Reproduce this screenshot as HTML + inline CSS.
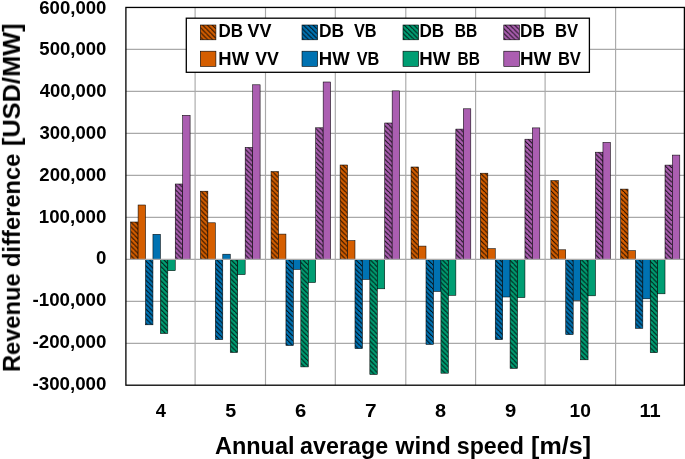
<!DOCTYPE html>
<html><head><meta charset="utf-8"><style>
html,body{margin:0;padding:0;background:#fff;width:685px;height:459px;overflow:hidden}
svg{display:block} text{will-change:transform}
</style></head><body>
<svg width="685" height="459" viewBox="0 0 685 459">
<defs>
<pattern id="h0" patternUnits="userSpaceOnUse" width="4.8" height="4.8"><rect width="4.8" height="4.8" fill="#D55E00"/><path d="M-2.4,-2.4 L7.199999999999999,7.199999999999999 M-7.199999999999999,-2.4 L2.4,7.199999999999999 M2.4,-7.199999999999999 L12.0,2.4" stroke="#000" stroke-opacity="0.88" stroke-width="1.05"/></pattern>
<pattern id="h1" patternUnits="userSpaceOnUse" width="4.8" height="4.8"><rect width="4.8" height="4.8" fill="#0072B2"/><path d="M-2.4,-2.4 L7.199999999999999,7.199999999999999 M-7.199999999999999,-2.4 L2.4,7.199999999999999 M2.4,-7.199999999999999 L12.0,2.4" stroke="#000" stroke-opacity="0.88" stroke-width="1.05"/></pattern>
<pattern id="h2" patternUnits="userSpaceOnUse" width="4.8" height="4.8"><rect width="4.8" height="4.8" fill="#009E73"/><path d="M-2.4,-2.4 L7.199999999999999,7.199999999999999 M-7.199999999999999,-2.4 L2.4,7.199999999999999 M2.4,-7.199999999999999 L12.0,2.4" stroke="#000" stroke-opacity="0.88" stroke-width="1.05"/></pattern>
<pattern id="h3" patternUnits="userSpaceOnUse" width="4.8" height="4.8"><rect width="4.8" height="4.8" fill="#AB5EB1"/><path d="M-2.4,-2.4 L7.199999999999999,7.199999999999999 M-7.199999999999999,-2.4 L2.4,7.199999999999999 M2.4,-7.199999999999999 L12.0,2.4" stroke="#000" stroke-opacity="0.88" stroke-width="1.05"/></pattern>
</defs>
<rect x="0" y="0" width="685" height="459" fill="#fff"/>
<g stroke="#A9A9A9" stroke-width="1.15"><line x1="125.9" y1="49.44" x2="684.4" y2="49.44"/><line x1="125.9" y1="91.43" x2="684.4" y2="91.43"/><line x1="125.9" y1="133.42" x2="684.4" y2="133.42"/><line x1="125.9" y1="175.41" x2="684.4" y2="175.41"/><line x1="125.9" y1="217.40" x2="684.4" y2="217.40"/><line x1="125.9" y1="301.38" x2="684.4" y2="301.38"/><line x1="125.9" y1="343.37" x2="684.4" y2="343.37"/><line x1="195.10" y1="7.45" x2="195.10" y2="385.2"/><line x1="265.50" y1="7.45" x2="265.50" y2="385.2"/><line x1="335.30" y1="7.45" x2="335.30" y2="385.2"/><line x1="405.80" y1="7.45" x2="405.80" y2="385.2"/><line x1="475.60" y1="7.45" x2="475.60" y2="385.2"/><line x1="545.10" y1="7.45" x2="545.10" y2="385.2"/><line x1="615.60" y1="7.45" x2="615.60" y2="385.2"/></g>
<g stroke="#000" stroke-width="0.55"><rect x="130.66" y="222.00" width="7.43" height="37.39" fill="url(#h0)"/><rect x="138.09" y="205.00" width="7.43" height="54.39" fill="#D55E00"/><rect x="145.52" y="259.39" width="7.43" height="65.41" fill="url(#h1)"/><rect x="152.95" y="234.30" width="7.43" height="25.09" fill="#0072B2"/><rect x="160.38" y="259.39" width="7.43" height="74.11" fill="url(#h2)"/><rect x="167.81" y="259.39" width="7.43" height="11.31" fill="#009E73"/><rect x="175.24" y="184.00" width="7.43" height="75.39" fill="url(#h3)"/><rect x="182.67" y="115.30" width="7.43" height="144.09" fill="#AB5EB1"/><rect x="200.40" y="191.20" width="7.46" height="68.19" fill="url(#h0)"/><rect x="207.86" y="222.80" width="7.46" height="36.59" fill="#D55E00"/><rect x="215.33" y="259.39" width="7.46" height="80.21" fill="url(#h1)"/><rect x="222.79" y="254.20" width="7.46" height="5.19" fill="#0072B2"/><rect x="230.25" y="259.39" width="7.46" height="93.11" fill="url(#h2)"/><rect x="237.71" y="259.39" width="7.46" height="15.21" fill="#009E73"/><rect x="245.18" y="147.40" width="7.46" height="111.99" fill="url(#h3)"/><rect x="252.64" y="84.80" width="7.46" height="174.59" fill="#AB5EB1"/><rect x="271.05" y="171.60" width="7.44" height="87.79" fill="url(#h0)"/><rect x="278.49" y="234.10" width="7.44" height="25.29" fill="#D55E00"/><rect x="285.94" y="259.39" width="7.44" height="86.11" fill="url(#h1)"/><rect x="293.38" y="259.39" width="7.44" height="10.01" fill="#0072B2"/><rect x="300.83" y="259.39" width="7.44" height="107.51" fill="url(#h2)"/><rect x="308.27" y="259.39" width="7.44" height="23.11" fill="#009E73"/><rect x="315.71" y="127.80" width="7.44" height="131.59" fill="url(#h3)"/><rect x="323.16" y="82.00" width="7.44" height="177.39" fill="#AB5EB1"/><rect x="340.10" y="165.00" width="7.44" height="94.39" fill="url(#h0)"/><rect x="347.54" y="240.70" width="7.44" height="18.69" fill="#D55E00"/><rect x="354.98" y="259.39" width="7.44" height="89.21" fill="url(#h1)"/><rect x="362.41" y="259.39" width="7.44" height="20.01" fill="#0072B2"/><rect x="369.85" y="259.39" width="7.44" height="115.11" fill="url(#h2)"/><rect x="377.29" y="259.39" width="7.44" height="29.41" fill="#009E73"/><rect x="384.73" y="123.00" width="7.44" height="136.39" fill="url(#h3)"/><rect x="392.16" y="90.90" width="7.44" height="168.49" fill="#AB5EB1"/><rect x="411.05" y="167.00" width="7.47" height="92.39" fill="url(#h0)"/><rect x="418.52" y="246.10" width="7.47" height="13.29" fill="#D55E00"/><rect x="425.99" y="259.39" width="7.47" height="85.01" fill="url(#h1)"/><rect x="433.46" y="259.39" width="7.47" height="32.01" fill="#0072B2"/><rect x="440.93" y="259.39" width="7.47" height="113.81" fill="url(#h2)"/><rect x="448.39" y="259.39" width="7.47" height="35.91" fill="#009E73"/><rect x="455.86" y="129.10" width="7.47" height="130.29" fill="url(#h3)"/><rect x="463.33" y="108.80" width="7.47" height="150.59" fill="#AB5EB1"/><rect x="480.40" y="173.20" width="7.42" height="86.19" fill="url(#h0)"/><rect x="487.82" y="248.70" width="7.42" height="10.69" fill="#D55E00"/><rect x="495.25" y="259.39" width="7.42" height="80.21" fill="url(#h1)"/><rect x="502.67" y="259.39" width="7.42" height="37.61" fill="#0072B2"/><rect x="510.10" y="259.39" width="7.42" height="109.01" fill="url(#h2)"/><rect x="517.52" y="259.39" width="7.42" height="38.21" fill="#009E73"/><rect x="524.95" y="139.20" width="7.42" height="120.19" fill="url(#h3)"/><rect x="532.38" y="127.90" width="7.42" height="131.49" fill="#AB5EB1"/><rect x="550.85" y="180.60" width="7.44" height="78.79" fill="url(#h0)"/><rect x="558.29" y="249.80" width="7.44" height="9.59" fill="#D55E00"/><rect x="565.74" y="259.39" width="7.44" height="75.21" fill="url(#h1)"/><rect x="573.18" y="259.39" width="7.44" height="40.91" fill="#0072B2"/><rect x="580.62" y="259.39" width="7.44" height="100.41" fill="url(#h2)"/><rect x="588.07" y="259.39" width="7.44" height="36.41" fill="#009E73"/><rect x="595.51" y="152.20" width="7.44" height="107.19" fill="url(#h3)"/><rect x="602.96" y="142.40" width="7.44" height="116.99" fill="#AB5EB1"/><rect x="620.66" y="189.10" width="7.39" height="70.29" fill="url(#h0)"/><rect x="628.05" y="250.70" width="7.39" height="8.69" fill="#D55E00"/><rect x="635.44" y="259.39" width="7.39" height="68.91" fill="url(#h1)"/><rect x="642.84" y="259.39" width="7.39" height="39.41" fill="#0072B2"/><rect x="650.23" y="259.39" width="7.39" height="93.31" fill="url(#h2)"/><rect x="657.62" y="259.39" width="7.39" height="34.41" fill="#009E73"/><rect x="665.01" y="165.10" width="7.39" height="94.29" fill="url(#h3)"/><rect x="672.41" y="155.10" width="7.39" height="104.29" fill="#AB5EB1"/></g>
<line x1="125.9" y1="259.39" x2="684.4" y2="259.39" stroke="#A9A9A9" stroke-width="1.1"/>
<rect x="125.9" y="7.45" width="558.5" height="377.75" fill="none" stroke="#000" stroke-width="1.3"/>
<rect x="186.3" y="18.2" width="403.09999999999997" height="54.099999999999994" fill="#fff" stroke="#000" stroke-width="1.3"/>
<rect x="200.3" y="25.0" width="15.6" height="14.8" fill="url(#h0)" stroke="#000" stroke-width="0.6"/>
<rect x="200.3" y="51.2" width="15.6" height="15.2" fill="#D55E00" stroke="#000" stroke-width="0.6"/>
<rect x="302.0" y="25.0" width="15.6" height="14.8" fill="url(#h1)" stroke="#000" stroke-width="0.6"/>
<rect x="302.0" y="51.2" width="15.6" height="15.2" fill="#0072B2" stroke="#000" stroke-width="0.6"/>
<rect x="403.0" y="25.0" width="15.6" height="14.8" fill="url(#h2)" stroke="#000" stroke-width="0.6"/>
<rect x="403.0" y="51.2" width="15.6" height="15.2" fill="#009E73" stroke="#000" stroke-width="0.6"/>
<rect x="503.8" y="25.0" width="15.6" height="14.8" fill="url(#h3)" stroke="#000" stroke-width="0.6"/>
<rect x="503.8" y="51.2" width="15.6" height="15.2" fill="#AB5EB1" stroke="#000" stroke-width="0.6"/>
<g font-family="Liberation Sans, sans-serif" font-weight="bold" fill="#000">
<text x="218.47" y="37.20" font-size="17.9" textLength="24.51" lengthAdjust="spacingAndGlyphs">DB</text>
<text x="247.58" y="37.20" font-size="17.9" textLength="23.95" lengthAdjust="spacingAndGlyphs">VV</text>
<text x="218.37" y="64.70" font-size="17.9" textLength="30.65" lengthAdjust="spacingAndGlyphs">HW</text>
<text x="255.18" y="64.70" font-size="17.9" textLength="23.64" lengthAdjust="spacingAndGlyphs">VV</text>
<text x="318.94" y="37.20" font-size="17.9" textLength="25.05" lengthAdjust="spacingAndGlyphs">DB</text>
<text x="353.99" y="37.20" font-size="17.9" textLength="22.65" lengthAdjust="spacingAndGlyphs">VB</text>
<text x="318.86" y="64.70" font-size="17.9" textLength="30.86" lengthAdjust="spacingAndGlyphs">HW</text>
<text x="356.69" y="64.70" font-size="17.9" textLength="22.65" lengthAdjust="spacingAndGlyphs">VB</text>
<text x="419.45" y="37.20" font-size="17.9" textLength="24.72" lengthAdjust="spacingAndGlyphs">DB</text>
<text x="454.66" y="37.20" font-size="17.9" textLength="22.45" lengthAdjust="spacingAndGlyphs">BB</text>
<text x="419.36" y="64.70" font-size="17.9" textLength="30.96" lengthAdjust="spacingAndGlyphs">HW</text>
<text x="457.47" y="64.70" font-size="17.9" textLength="22.34" lengthAdjust="spacingAndGlyphs">BB</text>
<text x="520.05" y="37.20" font-size="17.9" textLength="24.83" lengthAdjust="spacingAndGlyphs">DB</text>
<text x="554.99" y="37.20" font-size="17.9" textLength="23.13" lengthAdjust="spacingAndGlyphs">BV</text>
<text x="519.95" y="64.70" font-size="17.9" textLength="31.17" lengthAdjust="spacingAndGlyphs">HW</text>
<text x="557.89" y="64.70" font-size="17.9" textLength="23.02" lengthAdjust="spacingAndGlyphs">BV</text>
<text x="39.28" y="13.70" font-size="18.0" textLength="67.18" lengthAdjust="spacingAndGlyphs">600,000</text>
<text x="39.39" y="55.47" font-size="18.0" textLength="67.07" lengthAdjust="spacingAndGlyphs">500,000</text>
<text x="39.68" y="97.24" font-size="18.0" textLength="66.78" lengthAdjust="spacingAndGlyphs">400,000</text>
<text x="39.54" y="139.01" font-size="18.0" textLength="66.92" lengthAdjust="spacingAndGlyphs">300,000</text>
<text x="39.32" y="180.78" font-size="18.0" textLength="67.15" lengthAdjust="spacingAndGlyphs">200,000</text>
<text x="38.78" y="222.55" font-size="18.0" textLength="67.69" lengthAdjust="spacingAndGlyphs">100,000</text>
<text x="96.06" y="264.32" font-size="18.0" textLength="10.41" lengthAdjust="spacingAndGlyphs">0</text>
<text x="32.47" y="306.09" font-size="18.0" textLength="74.00" lengthAdjust="spacingAndGlyphs">-100,000</text>
<text x="32.47" y="347.86" font-size="18.0" textLength="74.00" lengthAdjust="spacingAndGlyphs">-200,000</text>
<text x="32.47" y="389.63" font-size="18.0" textLength="74.00" lengthAdjust="spacingAndGlyphs">-300,000</text>
<text x="155.75" y="417.00" font-size="18.0" textLength="10.18" lengthAdjust="spacingAndGlyphs">4</text>
<text x="225.35" y="417.00" font-size="18.0" textLength="10.95" lengthAdjust="spacingAndGlyphs">5</text>
<text x="295.14" y="417.00" font-size="18.0" textLength="11.27" lengthAdjust="spacingAndGlyphs">6</text>
<text x="364.92" y="417.00" font-size="18.0" textLength="11.62" lengthAdjust="spacingAndGlyphs">7</text>
<text x="435.11" y="417.00" font-size="18.0" textLength="11.04" lengthAdjust="spacingAndGlyphs">8</text>
<text x="504.97" y="417.00" font-size="18.0" textLength="11.25" lengthAdjust="spacingAndGlyphs">9</text>
<text x="569.59" y="417.00" font-size="18.0" textLength="21.40" lengthAdjust="spacingAndGlyphs">10</text>
<text x="639.54" y="417.00" font-size="18.0" textLength="21.12" lengthAdjust="spacingAndGlyphs">11</text>
<text x="214.91" y="454.00" font-size="24.7" textLength="79.65" lengthAdjust="spacingAndGlyphs">Annual</text>
<text x="300.12" y="454.00" font-size="24.7" textLength="87.98" lengthAdjust="spacingAndGlyphs">average</text>
<text x="395.57" y="454.00" font-size="24.7" textLength="55.23" lengthAdjust="spacingAndGlyphs">wind</text>
<text x="456.78" y="454.00" font-size="24.7" textLength="67.04" lengthAdjust="spacingAndGlyphs">speed</text>
<text x="531.09" y="454.00" font-size="24.7" textLength="59.92" lengthAdjust="spacingAndGlyphs">[m/s]</text>
<text transform="translate(19.90,370.50) rotate(-90)" x="-1.58" y="0" font-size="24.7" textLength="98.69" lengthAdjust="spacingAndGlyphs">Revenue</text>
<text transform="translate(19.90,266.10) rotate(-90)" x="-0.97" y="0" font-size="24.7" textLength="113.49" lengthAdjust="spacingAndGlyphs">difference</text>
<text transform="translate(19.90,144.60) rotate(-90)" x="-1.43" y="0" font-size="24.7" textLength="122.65" lengthAdjust="spacingAndGlyphs">[USD/MW]</text>
</g>
</svg>
</body></html>
